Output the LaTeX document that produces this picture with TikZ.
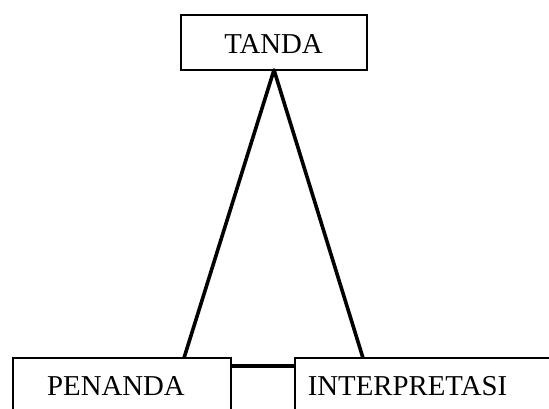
\documentclass[tikz,border=0pt]{standalone}
\usepackage{fontspec}
\setmainfont{Liberation Serif}
\begin{document}
\begin{tikzpicture}[x=1pt,y=-1pt,
  box/.style={draw,line width=1.4pt,inner sep=0pt,outer sep=0pt,anchor=north west},
  link/.style={line width=3.6pt,line join=round},
  lbl/.style={font=\fontsize{28.8}{34}\selectfont,inner sep=0pt,anchor=base}]
\useasboundingbox (0,0) rectangle (549,408);
% boxes
\node[box,minimum width=186pt,minimum height=55pt] (tanda) at (181,15) {};
\node[box,minimum width=218pt,minimum height=80pt] (penanda) at (13,358) {};
\node[box,minimum width=280pt,minimum height=80pt] (interp) at (295,358) {};
% labels
\node[lbl] (tandatext) at (273.5,53) {TANDA};
\node[lbl] (penandatext) at (116,395.5) {PENANDA};
\node[lbl] (interptext) at (407.5,395.5) {INTERPRETASI};
% connectors
\draw[link] ([xshift=171pt]penanda.north west) -- (tanda.south) -- ([xshift=68pt]interp.north west);
\draw[link] ([yshift=-8pt]penanda.north east) -- ([yshift=-8pt]interp.north west);
\end{tikzpicture}
\end{document}
